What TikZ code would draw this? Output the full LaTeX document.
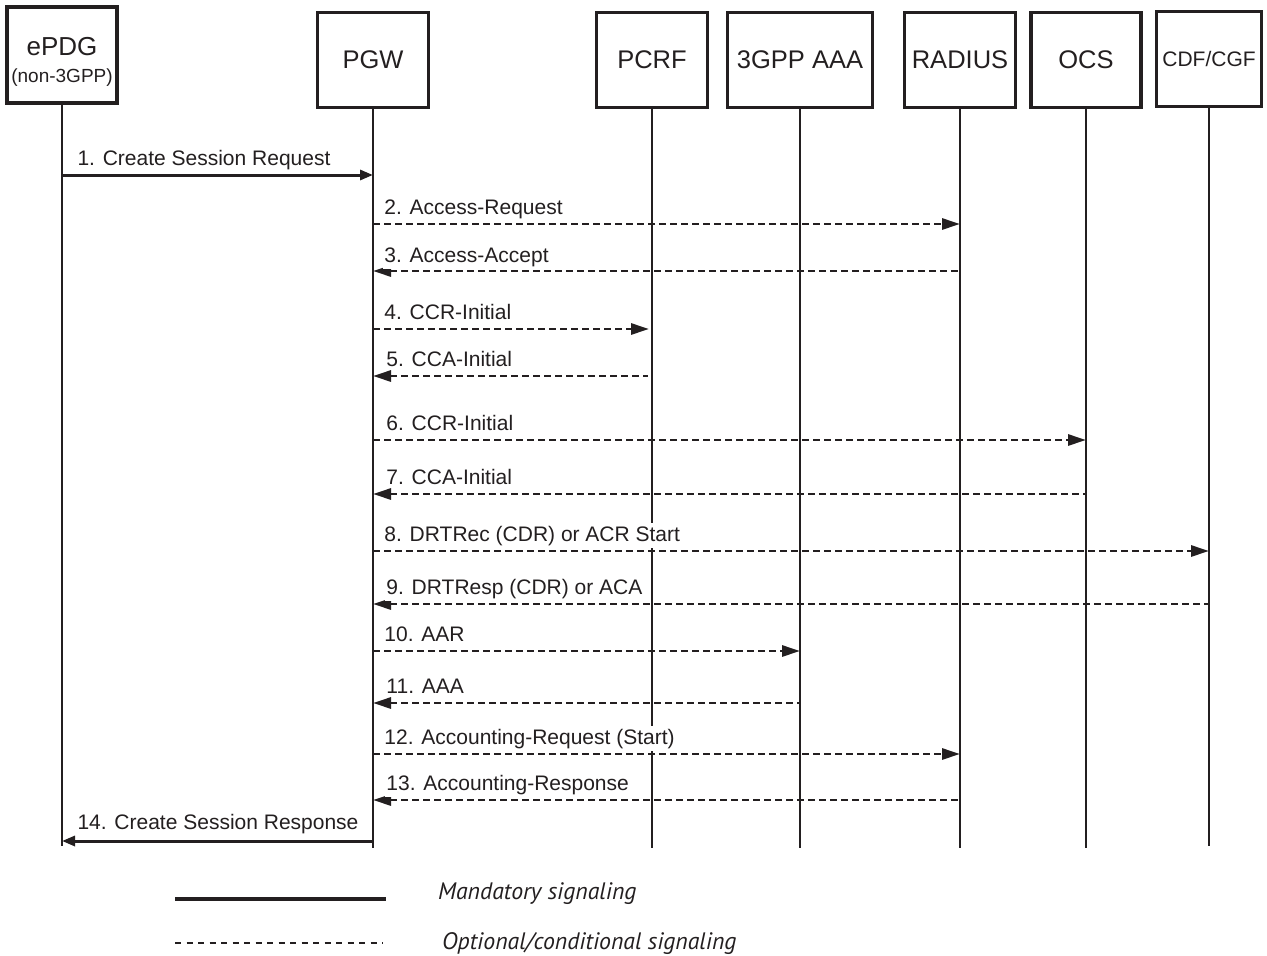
\documentclass[tikz,border=0pt]{standalone}
\usepackage{fontspec}
\setmainfont{Liberation Sans}
\newfontfamily\legendfont{PT Sans}
\usetikzlibrary{arrows.meta}
\definecolor{ink}{HTML}{231F20}
\begin{document}
\begin{tikzpicture}[x=1pt,y=-1pt,
  actor/.style={draw=ink,line width=3.4pt,minimum width=#1,minimum height=95pt,
    inner sep=0pt,text=ink,font=\fontsize{25.5}{28}\selectfont},
  life/.style={draw=ink,line width=1.7pt},
  msgsolid/.style={draw=ink,line width=3pt},
  msgdash/.style={draw=ink,line width=2.9pt,dash pattern=on 6.5pt off 4.5pt},
  tipR/.style={-{Triangle[length=18pt,width=11pt]}},
  tipL/.style={{Triangle[length=18pt,width=11pt]}-},
  tipRs/.style={-{Triangle[length=13pt,width=10pt]}},
  tipLs/.style={{Triangle[length=13pt,width=10pt]}-},
  lbl/.style={text=ink,fill=white,inner xsep=1pt,inner ysep=3pt,anchor=base west,
    font=\fontsize{21}{24}\selectfont},
  legtext/.style={text=ink,inner sep=0pt,anchor=west,font=\legendfont\itshape\fontsize{23.8}{26}\selectfont}
]
\useasboundingbox (0,0) rectangle (1267,956);

% participants
\node[actor=110pt,minimum height=96pt] (epdg) at (62,55) {};
\node[text=ink,font=\fontsize{26}{28}\selectfont] (epdgname) at (62,47) {ePDG};
\node[text=ink,font=\fontsize{19}{21}\selectfont] (epdgsub) at (62,78) {(non-3GPP)};
\node[actor=111pt] (pgw) at (373,60) {PGW};
\node[actor=111pt] (pcrf) at (652,60) {PCRF};
\node[actor=145pt] (aaa) at (800,60) {3GPP AAA};
\node[actor=111pt] (radius) at (960,60) {RADIUS};
\node[actor=110pt] (ocs) at (1086,60) {OCS};
\node[actor=105pt,font=\fontsize{21}{24}\selectfont] (cdf) at (1209,59) {CDF/CGF};

% lifelines
\coordinate (bottom) at (0,848);
\coordinate (bottomE) at (0,846);
\foreach \p in {pgw,pcrf,aaa,radius,ocs}
  \draw[life] (\p.south) -- (\p |- bottom);
\draw[life] (epdg.south) -- (epdg |- bottomE);
\draw[life] (cdf.south) -- (cdf |- bottomE);

% message rows
\coordinate (m1) at (0,175);
\coordinate (m2) at (0,224);
\coordinate (m3) at (0,271);
\coordinate (m4) at (0,329);
\coordinate (m5) at (0,376);
\coordinate (m6) at (0,440);
\coordinate (m7) at (0,494);
\coordinate (m8) at (0,551);
\coordinate (m9) at (0,604);
\coordinate (m10) at (0,651);
\coordinate (m11) at (0,703);
\coordinate (m12) at (0,754);
\coordinate (m13) at (0,800);
\coordinate (m14) at (0,841);

% messages
\draw[msgsolid,tipRs] (epdg |- m1) -- (pgw |- m1)
  node[lbl,pos=0,xshift=13pt,yshift=10pt] (t1) {1. Create Session Request};
\draw[msgdash,tipR] (pgw |- m2) -- (radius |- m2)
  node[lbl,pos=0,xshift=9pt,yshift=10pt] (t2) {2. Access-Request};
\draw[msgdash,tipL] (pgw |- m3) -- (radius |- m3)
  node[lbl,pos=0,xshift=9pt,yshift=9pt] (t3) {3. Access-Accept};
\draw[msgdash,tipR] (pgw |- m4) -- ([xshift=-3pt]pcrf |- m4)
  node[lbl,pos=0,xshift=9pt,yshift=10pt] (t4) {4. CCR-Initial};
\draw[msgdash,tipL] (pgw |- m5) -- ([xshift=-4pt]pcrf |- m5)
  node[lbl,pos=0,xshift=11pt,yshift=10pt] (t5) {5. CCA-Initial};
\draw[msgdash,tipR] (pgw |- m6) -- (ocs |- m6)
  node[lbl,pos=0,xshift=11pt,yshift=10pt] (t6) {6. CCR-Initial};
\draw[msgdash,tipL] (pgw |- m7) -- (ocs |- m7)
  node[lbl,pos=0,xshift=11pt,yshift=10pt] (t7) {7. CCA-Initial};
\draw[msgdash,tipR] (pgw |- m8) -- (cdf |- m8)
  node[lbl,pos=0,xshift=9pt,yshift=10pt] (t8) {8. DRTRec (CDR) or ACR Start};
\draw[msgdash,tipL] (pgw |- m9) -- (cdf |- m9)
  node[lbl,pos=0,xshift=11pt,yshift=10pt] (t9) {9. DRTResp (CDR) or ACA};
\draw[msgdash,tipR] (pgw |- m10) -- (aaa |- m10)
  node[lbl,pos=0,xshift=9pt,yshift=10pt] (t10) {10. AAR};
\draw[msgdash,tipL] (pgw |- m11) -- (aaa |- m11)
  node[lbl,pos=0,xshift=11pt,yshift=10pt] (t11) {11. AAA};
\draw[msgdash,tipR] (pgw |- m12) -- (radius |- m12)
  node[lbl,pos=0,xshift=9pt,yshift=10pt] (t12) {12. Accounting-Request (Start)};
\draw[msgdash,tipL] (pgw |- m13) -- (radius |- m13)
  node[lbl,pos=0,xshift=11pt,yshift=10pt] (t13) {13. Accounting-Response};
\draw[msgsolid,tipLs] (epdg |- m14) -- (pgw |- m14)
  node[lbl,pos=0,xshift=13pt,yshift=12pt] (t14) {14. Create Session Response};

% legend
\coordinate (la) at (175,899);
\coordinate (lb) at (386,899);
\coordinate (lc) at (175,943);
\coordinate (ld) at (383,943);
\draw[draw=ink,line width=3.2pt] (la) -- (lb);
\draw[draw=ink,line width=2.4pt,dash pattern=on 6pt off 5.5pt] (lc) -- (ld);
\node[legtext] (lt1) at (438,894) {Mandatory signaling};
\node[legtext] (lt2) at (442,944) {Optional/conditional signaling};
\end{tikzpicture}
\end{document}
